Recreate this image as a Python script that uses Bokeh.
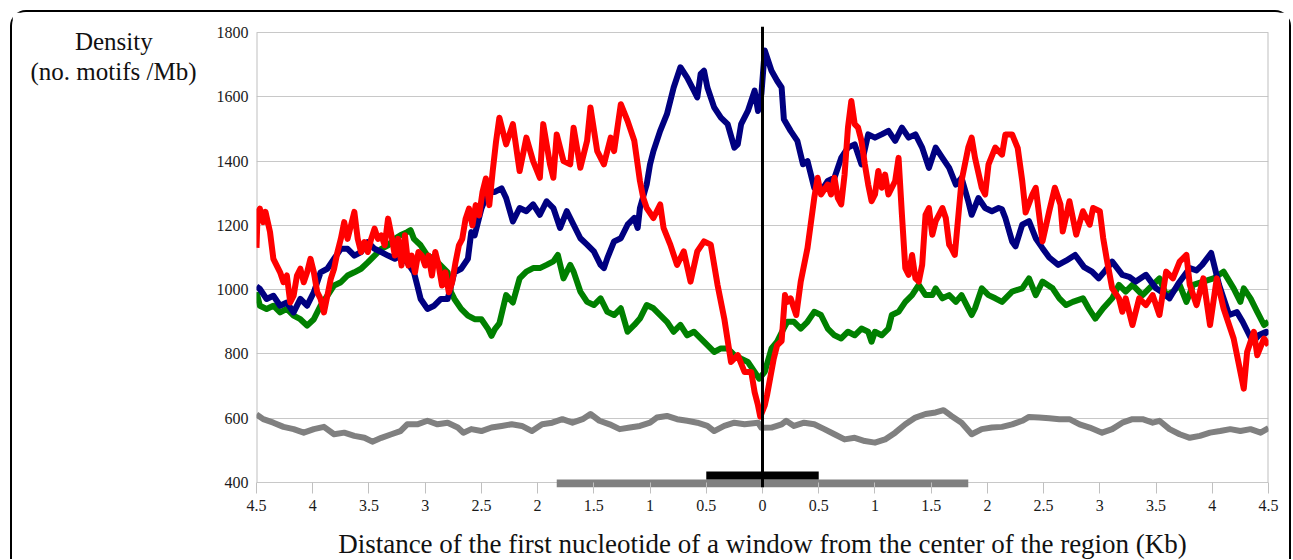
from bokeh.plotting import figure
from bokeh.models import Range1d, FixedTicker, CustomJSTickFormatter, Span
from bokeh.embed import file_html
from bokeh.resources import INLINE

# ---------------- data ----------------
X_TICKS = [-4.5, -4, -3.5, -3, -2.5, -2, -1.5, -1, -0.5, 0, 0.5, 1, 1.5, 2, 2.5, 3, 3.5, 4, 4.5]
X_TICK_LABELS = ["4.5", "4", "3.5", "3", "2.5", "2", "1.5", "1", "0.5", "0",
                 "0.5", "1", "1.5", "2", "2.5", "3", "3.5", "4", "4.5"]
Y_TICKS = [400, 600, 800, 1000, 1200, 1400, 1600, 1800]

BLUE = [(-4.5, 1010), (-4.47, 1002), (-4.41, 971), (-4.35, 981), (-4.29, 950), (-4.23, 960), (-4.17, 929),
        (-4.11, 971), (-4.05, 950), (-3.99, 992), (-3.93, 1054), (-3.87, 1065), (-3.81, 1096), (-3.75, 1127),
        (-3.69, 1127), (-3.63, 1106), (-3.57, 1117), (-3.51, 1148), (-3.45, 1127), (-3.39, 1117), (-3.33, 1106),
        (-3.27, 1096), (-3.22, 1106), (-3.16, 1085), (-3.10, 1054), (-3.07, 1013), (-3.04, 971), (-2.98, 940),
        (-2.92, 950), (-2.86, 971), (-2.80, 971), (-2.74, 1054), (-2.68, 1065), (-2.62, 1096), (-2.59, 1179),
        (-2.56, 1169), (-2.50, 1252), (-2.44, 1304), (-2.38, 1304), (-2.32, 1315), (-2.28, 1285), (-2.22, 1212),
        (-2.16, 1254), (-2.10, 1244), (-2.04, 1265), (-1.98, 1233), (-1.92, 1275), (-1.86, 1254), (-1.80, 1192),
        (-1.74, 1244), (-1.68, 1202), (-1.62, 1160), (-1.56, 1140), (-1.50, 1119), (-1.44, 1077), (-1.41, 1067),
        (-1.38, 1098), (-1.32, 1150), (-1.26, 1160), (-1.20, 1202), (-1.14, 1223), (-1.11, 1192), (-1.09, 1254),
        (-1.03, 1327), (-1.00, 1390), (-0.97, 1431), (-0.91, 1494), (-0.85, 1546), (-0.79, 1629), (-0.73, 1692),
        (-0.67, 1660), (-0.61, 1619), (-0.58, 1598), (-0.55, 1671), (-0.52, 1681), (-0.49, 1629), (-0.43, 1567),
        (-0.37, 1535), (-0.31, 1515), (-0.25, 1442), (-0.22, 1452), (-0.19, 1515), (-0.13, 1556), (-0.07, 1619),
        (-0.04, 1556), (-0.01, 1609), (0.02, 1744), (0.08, 1681), (0.13, 1650), (0.17, 1629), (0.19, 1530),
        (0.25, 1494), (0.31, 1463), (0.36, 1390), (0.40, 1400), (0.46, 1317), (0.52, 1306), (0.58, 1338),
        (0.64, 1348), (0.70, 1410), (0.76, 1442), (0.82, 1452), (0.88, 1390), (0.94, 1483), (1.00, 1473),
        (1.06, 1483), (1.12, 1494), (1.18, 1463), (1.24, 1504), (1.30, 1473), (1.36, 1483), (1.42, 1442),
        (1.48, 1379), (1.54, 1442), (1.60, 1410), (1.66, 1379), (1.72, 1327), (1.77, 1348), (1.83, 1275),
        (1.86, 1233), (1.92, 1285), (1.98, 1254), (2.04, 1244), (2.10, 1254), (2.13, 1250), (2.16, 1223),
        (2.22, 1150), (2.25, 1135), (2.31, 1202), (2.37, 1213), (2.43, 1160), (2.49, 1129), (2.55, 1100),
        (2.63, 1077), (2.70, 1090), (2.78, 1108), (2.86, 1070), (2.93, 1056), (2.99, 1035), (3.05, 1060),
        (3.11, 1087), (3.20, 1046), (3.26, 1040), (3.32, 1025), (3.41, 1046), (3.50, 1004), (3.56, 990),
        (3.62, 973), (3.70, 1020), (3.80, 1067), (3.86, 1060), (3.91, 1077), (3.99, 1114), (4.06, 1015),
        (4.15, 921), (4.22, 930), (4.27, 900), (4.36, 837), (4.42, 860), (4.48, 869), (4.50, 860)]

RED = [(-4.50, 1130), (-4.49, 1240), (-4.47, 1252), (-4.44, 1210), (-4.42, 1242), (-4.38, 1180), (-4.35, 1096),
       (-4.32, 1075), (-4.29, 1054), (-4.26, 1023), (-4.23, 1044), (-4.20, 960), (-4.17, 981), (-4.14, 1044),
       (-4.11, 1065), (-4.08, 1023), (-4.05, 1054), (-4.02, 1096), (-3.99, 1054), (-3.96, 992), (-3.93, 971),
       (-3.90, 929), (-3.87, 981), (-3.84, 1033), (-3.81, 1065), (-3.78, 1117), (-3.75, 1158), (-3.72, 1210),
       (-3.69, 1158), (-3.66, 1200), (-3.63, 1242), (-3.60, 1158), (-3.57, 1117), (-3.54, 1148), (-3.51, 1117),
       (-3.48, 1158), (-3.45, 1190), (-3.42, 1158), (-3.39, 1169), (-3.36, 1138), (-3.33, 1221), (-3.30, 1169),
       (-3.27, 1106), (-3.24, 1158), (-3.21, 1075), (-3.18, 1169), (-3.15, 1075), (-3.12, 1106), (-3.09, 1054),
       (-3.06, 1117), (-3.03, 1106), (-3.00, 1075), (-2.97, 1106), (-2.94, 1044), (-2.91, 1117), (-2.88, 1075),
       (-2.85, 1013), (-2.82, 1054), (-2.79, 992), (-2.76, 1023), (-2.73, 1085), (-2.70, 1138), (-2.67, 1158),
       (-2.64, 1221), (-2.61, 1252), (-2.58, 1200), (-2.55, 1263), (-2.52, 1231), (-2.49, 1304), (-2.46, 1346),
       (-2.43, 1263), (-2.40, 1367), (-2.37, 1460), (-2.34, 1535), (-2.28, 1452), (-2.22, 1515), (-2.16, 1369),
       (-2.10, 1473), (-2.04, 1400), (-1.98, 1348), (-1.95, 1515), (-1.89, 1390), (-1.86, 1348), (-1.83, 1483),
       (-1.77, 1400), (-1.71, 1390), (-1.68, 1504), (-1.62, 1379), (-1.56, 1463), (-1.53, 1567), (-1.47, 1431),
       (-1.41, 1390), (-1.35, 1473), (-1.32, 1431), (-1.26, 1577), (-1.20, 1525), (-1.14, 1463), (-1.09, 1338),
       (-1.06, 1285), (-1.03, 1254), (-0.97, 1223), (-0.91, 1265), (-0.88, 1192), (-0.82, 1140), (-0.76, 1077),
       (-0.70, 1119), (-0.64, 1025), (-0.58, 1119), (-0.52, 1150), (-0.46, 1140), (-0.40, 1015), (-0.34, 910),
       (-0.28, 775), (-0.22, 796), (-0.16, 744), (-0.10, 744), (-0.07, 681), (-0.04, 640), (-0.02, 605),
       (0.02, 640), (0.04, 671), (0.10, 785), (0.13, 827), (0.17, 840), (0.20, 983), (0.22, 962), (0.25, 973),
       (0.30, 921), (0.34, 1025), (0.40, 1129), (0.46, 1285), (0.49, 1348), (0.52, 1296), (0.58, 1327),
       (0.61, 1296), (0.64, 1348), (0.67, 1285), (0.70, 1265), (0.73, 1358), (0.76, 1504), (0.79, 1587),
       (0.82, 1515), (0.85, 1504), (0.88, 1463), (0.91, 1390), (0.94, 1327), (0.97, 1275), (1.00, 1296),
       (1.03, 1369), (1.06, 1317), (1.09, 1358), (1.12, 1296), (1.18, 1338), (1.21, 1410), (1.24, 1233),
       (1.27, 1067), (1.30, 1046), (1.33, 1108), (1.36, 1035), (1.39, 1025), (1.42, 1077), (1.45, 1233),
       (1.48, 1254), (1.51, 1171), (1.54, 1213), (1.57, 1233), (1.60, 1254), (1.63, 1223), (1.66, 1140),
       (1.68, 1129), (1.71, 1108), (1.74, 1223), (1.77, 1338), (1.83, 1442), (1.86, 1473), (1.89, 1410),
       (1.95, 1317), (1.98, 1296), (2.01, 1390), (2.07, 1442), (2.13, 1420), (2.16, 1483), (2.22, 1483),
       (2.27, 1440), (2.31, 1338), (2.34, 1240), (2.40, 1296), (2.43, 1317), (2.49, 1150), (2.55, 1244),
       (2.60, 1317), (2.65, 1265), (2.67, 1181), (2.73, 1275), (2.79, 1171), (2.85, 1244), (2.91, 1202),
       (2.94, 1254), (3.00, 1244), (3.03, 1160), (3.06, 1098), (3.11, 1004), (3.17, 973), (3.20, 931),
       (3.23, 973), (3.29, 890), (3.35, 973), (3.41, 952), (3.47, 983), (3.53, 921), (3.59, 1056), (3.65, 1035),
       (3.71, 1087), (3.77, 1108), (3.80, 1015), (3.86, 952), (3.92, 1035), (3.98, 890), (4.04, 1035),
       (4.10, 942), (4.19, 848), (4.25, 744), (4.28, 692), (4.31, 806), (4.37, 869), (4.40, 796), (4.46, 848),
       (4.50, 827)]

GREEN = [(-4.50, 992), (-4.47, 950), (-4.41, 940), (-4.35, 950), (-4.29, 929), (-4.23, 940), (-4.17, 919),
         (-4.11, 908), (-4.05, 888), (-3.99, 908), (-3.93, 950), (-3.87, 981), (-3.81, 1013), (-3.75, 1023),
         (-3.69, 1044), (-3.63, 1054), (-3.57, 1065), (-3.51, 1085), (-3.45, 1106), (-3.39, 1127), (-3.33, 1138),
         (-3.27, 1158), (-3.22, 1169), (-3.16, 1179), (-3.13, 1185), (-3.10, 1158), (-3.04, 1138), (-2.98, 1106),
         (-2.92, 1096), (-2.86, 1075), (-2.80, 1054), (-2.77, 992), (-2.74, 971), (-2.68, 940), (-2.62, 919),
         (-2.56, 908), (-2.50, 908), (-2.44, 877), (-2.41, 856), (-2.38, 877), (-2.34, 895), (-2.28, 983),
         (-2.22, 960), (-2.16, 1035), (-2.10, 1056), (-2.04, 1067), (-1.98, 1067), (-1.92, 1077), (-1.86, 1088),
         (-1.82, 1108), (-1.77, 1035), (-1.71, 1077), (-1.68, 1056), (-1.62, 994), (-1.56, 962), (-1.50, 952),
         (-1.44, 973), (-1.38, 931), (-1.32, 921), (-1.26, 942), (-1.20, 869), (-1.14, 890), (-1.09, 910),
         (-1.03, 952), (-0.97, 942), (-0.91, 921), (-0.85, 900), (-0.79, 869), (-0.73, 890), (-0.67, 858),
         (-0.61, 869), (-0.55, 848), (-0.49, 827), (-0.43, 806), (-0.37, 817), (-0.31, 817), (-0.25, 796),
         (-0.19, 785), (-0.13, 775), (-0.07, 744), (-0.03, 723), (0.02, 744), (0.08, 817), (0.13, 838),
         (0.19, 880), (0.22, 900), (0.28, 900), (0.34, 879), (0.40, 900), (0.46, 931), (0.52, 921), (0.58, 879),
         (0.64, 858), (0.70, 848), (0.76, 869), (0.82, 858), (0.88, 879), (0.94, 869), (0.97, 838), (1.00, 869),
         (1.06, 858), (1.12, 879), (1.15, 921), (1.21, 931), (1.27, 962), (1.33, 983), (1.39, 1015), (1.45, 983),
         (1.51, 983), (1.54, 1004), (1.60, 973), (1.66, 983), (1.72, 962), (1.77, 983), (1.83, 942), (1.86, 921),
         (1.89, 942), (1.95, 1004), (2.01, 983), (2.07, 973), (2.13, 962), (2.22, 994), (2.31, 1004),
         (2.37, 1035), (2.43, 983), (2.49, 1025), (2.58, 1004), (2.64, 973), (2.70, 952), (2.76, 962),
         (2.85, 973), (2.90, 942), (2.96, 910), (3.03, 942), (3.11, 973), (3.17, 1015), (3.23, 994), (3.29, 1015),
         (3.38, 983), (3.47, 1015), (3.53, 1035), (3.59, 983), (3.65, 994), (3.71, 1015), (3.77, 962),
         (3.83, 1015), (3.92, 1025), (4.01, 1035), (4.10, 1056), (4.19, 1004), (4.25, 962), (4.28, 1004),
         (4.34, 973), (4.40, 931), (4.46, 890), (4.50, 900)]

GRAY = [(-4.50, 612), (-4.44, 597), (-4.35, 586), (-4.26, 573), (-4.17, 566), (-4.08, 555), (-3.99, 566),
        (-3.90, 573), (-3.81, 550), (-3.72, 555), (-3.63, 545), (-3.54, 539), (-3.47, 527), (-3.39, 539),
        (-3.30, 550), (-3.22, 560), (-3.16, 581), (-3.07, 581), (-2.98, 592), (-2.89, 581), (-2.80, 586),
        (-2.71, 571), (-2.66, 555), (-2.59, 566), (-2.50, 560), (-2.41, 571), (-2.32, 576), (-2.23, 581),
        (-2.14, 576), (-2.05, 560), (-1.96, 581), (-1.87, 586), (-1.78, 597), (-1.69, 586), (-1.60, 597),
        (-1.53, 613), (-1.45, 592), (-1.36, 581), (-1.27, 566), (-1.18, 571), (-1.09, 576), (-1.00, 586),
        (-0.94, 602), (-0.85, 607), (-0.76, 597), (-0.67, 592), (-0.58, 586), (-0.49, 576), (-0.43, 560),
        (-0.34, 576), (-0.25, 586), (-0.16, 581), (-0.04, 586), (-0.01, 570), (0.08, 571), (0.17, 581),
        (0.21, 592), (0.28, 576), (0.37, 586), (0.46, 581), (0.55, 566), (0.64, 550), (0.73, 534), (0.82, 539),
        (0.91, 529), (1.00, 524), (1.09, 534), (1.18, 555), (1.27, 581), (1.36, 602), (1.45, 613), (1.54, 618),
        (1.61, 625), (1.68, 607), (1.77, 586), (1.86, 550), (1.95, 566), (2.04, 571), (2.13, 573), (2.22, 581),
        (2.31, 592), (2.37, 604), (2.46, 602), (2.55, 600), (2.64, 597), (2.73, 597), (2.82, 581), (2.91, 571),
        (3.02, 555), (3.11, 566), (3.20, 586), (3.29, 597), (3.38, 597), (3.47, 586), (3.53, 592), (3.62, 566),
        (3.71, 550), (3.80, 539), (3.89, 545), (3.98, 555), (4.07, 560), (4.16, 566), (4.25, 560), (4.34, 566),
        (4.43, 555), (4.50, 569)]

# region bars under the axis
BAR_LEFT = [-1.83, -0.5]
BAR_RIGHT = [1.83, 0.5]
BAR_BOTTOM = [384.4, 409]
BAR_TOP = [409, 434]
BAR_COLORS = ["#808080", "#000000"]

X_MIN, X_MAX = -4.5, 4.5
Y_MIN, Y_MAX = 400, 1800

SERIES = [(GRAY, "#808080"), (GREEN, "#008000"), (BLUE, "#000080"), (RED, "#ff0000")]

# two blank lines on top push the two-line title down from the frame top;
# non-breaking spaces centre "Density" over the second line
NBSP = "\u00a0"
Y_TITLE = " \n \nDensity" + NBSP * 7 + "\n(no. motifs /Mb)"
X_TITLE = "Distance of the first nucleotide of a window from the center of the region (Kb)"

# ---------------- figure ----------------
FONT = "Liberation Serif"
p = figure(width=1277, height=547,
           x_range=Range1d(X_MIN, X_MAX), y_range=Range1d(384.375, 1818.75),
           output_backend="svg", toolbar_location=None,
           min_border_left=244, min_border_right=25, min_border_top=14, min_border_bottom=74)
p.styles = {"border": "2px solid black", "border-bottom": "none", "box-sizing": "content-box",
            "border-radius": "16px 16px 0 0", "margin-left": "10px", "margin-top": "10px"}
p.outline_line_color = None
p.background_fill_color = "white"
p.border_fill_color = "white"

p.xgrid.visible = False
p.ygrid.ticker = FixedTicker(ticks=Y_TICKS)
p.ygrid.grid_line_color = "#c8c8c8"
p.ygrid.grid_line_width = 1

p.yaxis.ticker = FixedTicker(ticks=Y_TICKS, minor_ticks=[])
p.yaxis.axis_line_color = None
p.yaxis.major_tick_line_color = None
p.yaxis.minor_tick_line_color = None
p.yaxis.major_tick_out = 0
p.yaxis.major_label_standoff = 8
p.yaxis.major_label_text_font = FONT
p.yaxis.major_label_text_font_size = "16px"
p.yaxis.major_label_text_color = "#1a1a1a"
p.yaxis.axis_label = Y_TITLE
p.yaxis.axis_label_text_font = FONT
p.yaxis.axis_label_text_font_size = "25px"
p.yaxis.axis_label_text_font_style = "normal"
p.yaxis.axis_label_text_color = "#111111"
p.yaxis.axis_label_text_line_height = 1.12
p.yaxis.axis_label_standoff = 17
p.yaxis.axis_label_orientation = "horizontal"
p.yaxis.axis_label_align = "end"

p.xaxis.ticker = FixedTicker(ticks=X_TICKS, minor_ticks=[])
p.xaxis.formatter = CustomJSTickFormatter(
    args=dict(tick_vals=X_TICKS, tick_labels=X_TICK_LABELS),
    code=("const i = tick_vals.findIndex((t) => Math.abs(t - tick) < 1e-6);"
          " return i >= 0 ? tick_labels[i] : '';"))
p.xaxis.axis_line_color = None
p.xaxis.major_tick_line_color = "#c0c0c0"
p.xaxis.minor_tick_line_color = None
p.xaxis.major_tick_in = 5
p.xaxis.major_tick_out = 6
p.xaxis.major_label_standoff = 6
p.xaxis.major_label_text_font = FONT
p.xaxis.major_label_text_font_size = "16px"
p.xaxis.major_label_text_color = "#1a1a1a"
p.xaxis.axis_label = X_TITLE
p.xaxis.axis_label_text_font = FONT
p.xaxis.axis_label_text_font_size = "27px"
p.xaxis.axis_label_text_font_style = "normal"
p.xaxis.axis_label_text_color = "#111111"
p.xaxis.axis_label_standoff = 15

# frame side lines (left and right) from 400 to 1800
p.segment(x0=[X_MIN, X_MAX], y0=[Y_MIN, Y_MIN], x1=[X_MIN, X_MAX], y1=[Y_MAX, Y_MAX],
          line_color="#c0c0c0", line_width=2)

for pts, col in SERIES:
    xs = [a for a, b in pts]
    ys = [b for a, b in pts]
    p.line(xs, ys, line_color=col, line_width=6, line_join="round")

p.quad(left=BAR_LEFT, right=BAR_RIGHT, bottom=BAR_BOTTOM, top=BAR_TOP,
       fill_color=BAR_COLORS, line_color=None)

p.add_layout(Span(location=0, dimension="height", line_color="black", line_width=3))

open("out.html", "w").write(file_html(p, INLINE))
